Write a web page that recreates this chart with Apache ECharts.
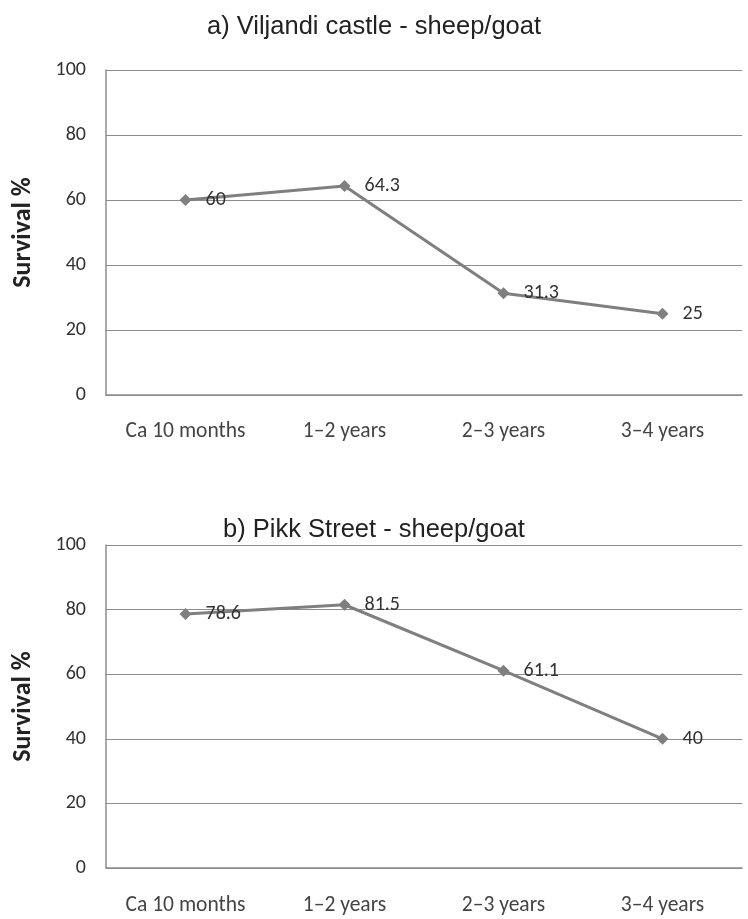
<!DOCTYPE html>
<html><head><meta charset="utf-8">
<script src="https://cdn.jsdelivr.net/npm/echarts@6/dist/echarts.min.js"></script>
<style>html,body{margin:0;padding:0;background:#fff}#c{width:748px;height:919px}</style>
</head><body><div id="c"></div>
<script>
const categories = ['Ca 10 months', '1\u20132 years', '2\u20133 years', '3\u20134 years'];
const viljandiValues = [60, 64.3, 31.3, 25];
const pikkValues = [78.6, 81.5, 61.1, 40];
const titleA = 'a) Viljandi castle - sheep/goat';
const titleB = 'b) Pikk Street - sheep/goat';
const yTicks = [0, 20, 40, 60, 80, 100];

const chart = echarts.init(document.getElementById('c'));
const catFont = 'Carlito, "Open Sans", "Noto Sans", sans-serif';
const titleFont = '"Liberation Sans", Arial, sans-serif';
function xAxis(i){return {gridIndex:i,type:'category',data:categories,boundaryGap:true,
  axisLine:{show:true,lineStyle:{color:'#8c8c8c',width:1.5}},axisTick:{show:false},
  axisLabel:{color:'#444',fontSize:21.5,fontFamily:catFont,margin:i===0?26:27}};}
function yAxis(i){return {gridIndex:i,type:'value',min:yTicks[0],max:yTicks[yTicks.length-1],interval:20,
  name:'Survival %',nameLocation:'middle',nameGap:70,nameRotate:90,
  nameTextStyle:{fontFamily:catFont,fontWeight:'bold',fontSize:26,color:'#222'},
  axisLine:{show:true,lineStyle:{color:'#8c8c8c',width:1.5}},axisTick:{show:false},
  splitLine:{show:true,lineStyle:{color:'#8c8c8c',width:1.2}},
  axisLabel:{color:'#333',fontSize:20,fontFamily:catFont,margin:20}};}
function series(i,data){return {type:'line',xAxisIndex:i,yAxisIndex:i,data:data,
  symbol:'diamond',symbolSize:12,lineStyle:{color:'#7f7f7f',width:3},itemStyle:{color:'#7f7f7f'},
  label:{show:true,position:'right',distance:14,color:'#333',fontSize:20,fontFamily:catFont}};}
chart.setOption({
  animation:false,
  title:[
    {text:titleA,left:'center',top:9,textStyle:{fontFamily:titleFont,fontWeight:'normal',fontSize:25.5,color:'#222'}},
    {text:titleB,left:'center',top:512,textStyle:{fontFamily:titleFont,fontWeight:'normal',fontSize:25.5,color:'#222'}}
  ],
  grid:[{left:106,top:70,width:636,height:325},{left:106,top:545,width:636,height:323}],
  xAxis:[xAxis(0),xAxis(1)],
  yAxis:[yAxis(0),yAxis(1)],
  series:[series(0,viljandiValues),series(1,pikkValues)]
});
</script></body></html>
